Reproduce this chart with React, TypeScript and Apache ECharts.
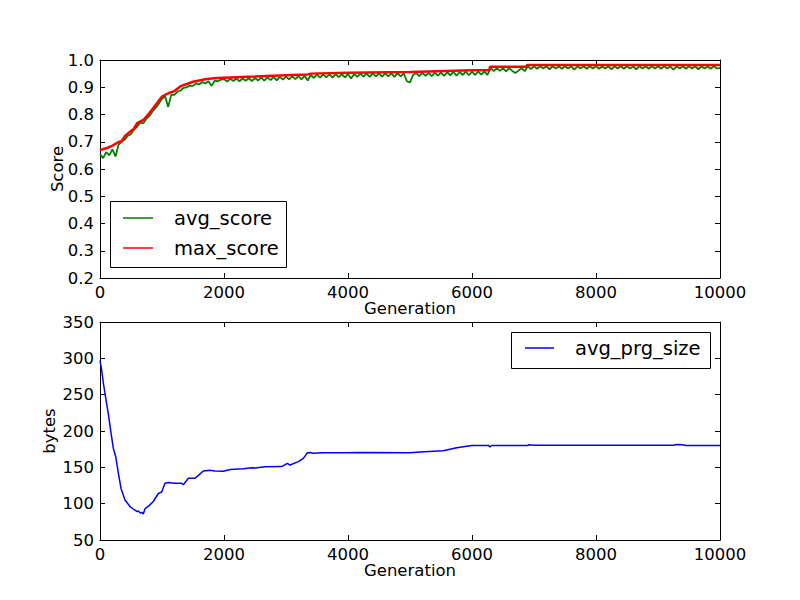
import React, { useEffect, useRef } from "react";
import * as echarts from "echarts";

// ---- data ----
const AVG_STEP = 50; // generation spacing of avg_score samples
const avgScore = [
  0.655, 0.640, 0.662, 0.650, 0.672, 0.646, 0.690, 0.700, 0.708, 0.722, 0.728, 0.745, 0.756, 0.770, 0.768, 0.785, 0.795, 0.812, 0.825, 0.840,
  0.858, 0.866, 0.828, 0.873, 0.872, 0.884, 0.888, 0.898, 0.900, 0.906, 0.905, 0.914, 0.910, 0.919, 0.914, 0.922, 0.905, 0.924, 0.922, 0.928,
  0.930, 0.921, 0.931, 0.923, 0.932, 0.922, 0.932, 0.924, 0.933, 0.923, 0.934, 0.925, 0.935, 0.924, 0.936, 0.926, 0.937, 0.925, 0.938, 0.928,
  0.939, 0.929, 0.940, 0.930, 0.941, 0.929, 0.942, 0.925, 0.945, 0.934, 0.946, 0.935, 0.947, 0.936, 0.947, 0.935, 0.948, 0.937, 0.948, 0.936,
  0.949, 0.932, 0.949, 0.938, 0.950, 0.939, 0.950, 0.938, 0.951, 0.940, 0.951, 0.939, 0.951, 0.940, 0.951, 0.938, 0.952, 0.940, 0.951, 0.922,
  0.918, 0.945, 0.952, 0.941, 0.953, 0.942, 0.953, 0.941, 0.954, 0.943, 0.954, 0.942, 0.955, 0.944, 0.956, 0.943, 0.956, 0.945, 0.957, 0.944,
  0.957, 0.945, 0.957, 0.946, 0.957, 0.945, 0.970, 0.959, 0.970, 0.960, 0.970, 0.958, 0.970, 0.960, 0.952, 0.961, 0.970, 0.959, 0.977, 0.967,
  0.977, 0.968, 0.977, 0.969, 0.977, 0.966, 0.977, 0.969, 0.976, 0.968, 0.977, 0.969, 0.977, 0.965, 0.977, 0.969, 0.977, 0.968, 0.977, 0.969,
  0.977, 0.968, 0.976, 0.969, 0.977, 0.966, 0.977, 0.969, 0.977, 0.968, 0.977, 0.969, 0.976, 0.966, 0.977, 0.969, 0.977, 0.968, 0.977, 0.969,
  0.977, 0.968, 0.977, 0.969, 0.976, 0.965, 0.977, 0.969, 0.977, 0.968, 0.977, 0.969, 0.977, 0.966, 0.977, 0.969, 0.976, 0.968, 0.977, 0.969,
  0.970,
];

const maxGen = [0, 100, 200, 300, 350, 400, 500, 540, 600, 700, 800, 900, 1000, 1100, 1200, 1300, 1400, 1500, 1600, 1700, 1800, 1900, 2000, 2500, 3000, 3350, 3400, 4000, 5000, 6000, 6280, 6290, 6880, 6890, 10000];
const maxScore = [0.670, 0.676, 0.686, 0.699, 0.702, 0.720, 0.740, 0.746, 0.768, 0.780, 0.806, 0.836, 0.866, 0.878, 0.886, 0.904, 0.912, 0.920, 0.925, 0.929, 0.932, 0.934, 0.935, 0.939, 0.944, 0.947, 0.950, 0.953, 0.956, 0.962, 0.962, 0.975, 0.975, 0.982, 0.982];

const prgGen = [0, 25, 54, 97, 134, 172, 215, 253, 296, 339, 403, 484, 530, 564, 600, 620, 650, 672, 700, 726, 800, 860, 941, 995, 1048, 1100, 1200, 1317, 1344, 1425, 1532, 1600, 1667, 1774, 1850, 1989, 2100, 2312, 2450, 2500, 2661, 2930, 3022, 3064, 3199, 3280, 3344, 3387, 3441, 3600, 3925, 4200, 5000, 5161, 5537, 5753, 5914, 6000, 6270, 6290, 6320, 6900, 6908, 7000, 9250, 9300, 9400, 9450, 10000];
const prgSize = [297, 285, 266, 243, 224, 201, 176, 165, 142, 121, 105, 96, 93, 91, 89, 90, 87, 88, 86, 93, 98, 103, 114, 116, 128, 129, 128, 128, 126, 135, 135, 140, 145, 146, 145, 144.5, 147, 148, 149.5, 149, 150.8, 151, 155.5, 153.2, 157.8, 162.4, 170, 170.5, 169.3, 170, 170, 170.3, 170, 171, 172.7, 177, 179, 180, 180, 178, 180, 180, 181, 180.5, 180.5, 181.5, 181, 180, 180];

const scoreTicks = { min: 0.2, max: 1.0, interval: 0.1 };
const bytesTicks = { min: 50, max: 350, interval: 50 };
const genTicks = { min: 0, max: 10000, interval: 2000 };

const FONT = "DejaVu Sans";

export default function App() {
  const ref = useRef<HTMLDivElement>(null);
  useEffect(() => {
    if (!ref.current) return;
    const chart = echarts.init(ref.current, null, { renderer: "svg" });

    const lbl = { color: "#000", fontSize: 16.5, fontFamily: FONT };
    const line = { show: true, onZero: false, lineStyle: { color: "#000", width: 1 } };
    const tick = { show: true, inside: true, length: 5, lineStyle: { color: "#000", width: 1 } };
    const nameStyle = { color: "#000", fontSize: 16.5, fontFamily: FONT };

    const xMain = (grid: number) => ({
      type: "value", gridIndex: grid, position: "bottom", ...genTicks,
      axisLine: line, axisTick: tick,
      axisLabel: { ...lbl, margin: 6, formatter: (v: number) => String(Math.round(v)) },
      splitLine: { show: false },
      name: "Generation", nameLocation: "middle", nameGap: 22, nameMoveOverlap: false, nameTextStyle: nameStyle,
    });
    const xTop = (grid: number) => ({
      type: "value", gridIndex: grid, position: "top", ...genTicks,
      axisLine: line, axisTick: tick, axisLabel: { show: false }, splitLine: { show: false },
    });
    const yMain = (grid: number, t: any, name: string, gap: number, fmt: (v: number) => string) => ({
      type: "value", gridIndex: grid, position: "left", ...t,
      axisLine: line, axisTick: tick, axisLabel: { ...lbl, margin: 6, formatter: fmt }, splitLine: { show: false },
      name, nameLocation: "middle", nameGap: gap, nameMoveOverlap: false, nameTextStyle: nameStyle,
    });
    const yRight = (grid: number, t: any) => ({
      type: "value", gridIndex: grid, position: "right", ...t,
      axisLine: line, axisTick: tick, axisLabel: { show: false }, splitLine: { show: false },
    });

    const legendText = { color: "#000", fontSize: 19.5, fontFamily: FONT, lineHeight: 24, padding: [0, 0, 0, 16] };

    chart.setOption({
      animation: false,
      backgroundColor: "#fff",
      grid: [
        { left: 100, top: 60, width: 620, height: 218, containLabel: false },
        { left: 100, top: 322, width: 620, height: 218, containLabel: false },
      ],
      xAxis: [xMain(0), xTop(0), xMain(1), xTop(1)],
      yAxis: [
        yMain(0, scoreTicks, "Score", 34, (v: number) => v.toFixed(1)),
        yRight(0, scoreTicks),
        yMain(1, bytesTicks, "bytes", 42, (v: number) => String(Math.round(v))),
        yRight(1, bytesTicks),
      ],
      graphic: [
        { type: "rect", z: 3, shape: { x: 110.5, y: 201.5, width: 176, height: 66 }, style: { fill: "#fff", stroke: "#000", lineWidth: 1 } },
        { type: "rect", z: 3, shape: { x: 511.5, y: 332.5, width: 199, height: 36 }, style: { fill: "#fff", stroke: "#000", lineWidth: 1 } },
      ],
      legend: [
        {
          data: ["avg_score", "max_score"], orient: "vertical", left: 123, top: 206, itemGap: 6,
          itemWidth: 30, itemHeight: 1.5, icon: "rect", selectedMode: false, padding: 0, z: 5,
          textStyle: legendText,
        },
        {
          data: ["avg_prg_size"], orient: "vertical", left: 525, top: 336, itemGap: 6,
          itemWidth: 29, itemHeight: 1.5, icon: "rect", selectedMode: false, padding: 0, z: 5,
          textStyle: legendText,
        },
      ],
      series: [
        {
          name: "avg_score", type: "line", xAxisIndex: 0, yAxisIndex: 0, symbol: "none",
          data: avgScore.map((v, i) => [i * AVG_STEP, v]),
          lineStyle: { color: "#008000", width: 1.8 }, itemStyle: { color: "#008000" },
        },
        {
          name: "max_score", type: "line", xAxisIndex: 0, yAxisIndex: 0, symbol: "none",
          data: maxGen.map((g, i) => [g, maxScore[i]]),
          lineStyle: { color: "#ff0000", width: 2.5 }, itemStyle: { color: "#ff0000" },
        },
        {
          name: "avg_prg_size", type: "line", xAxisIndex: 2, yAxisIndex: 2, symbol: "none",
          data: prgGen.map((g, i) => [g, prgSize[i]]),
          lineStyle: { color: "#0000ff", width: 1.5 }, itemStyle: { color: "#0000ff" },
        },
      ],
    });
    return () => chart.dispose();
  }, []);
  return (
    <div
      ref={ref}
      style={{ position: "fixed", left: 0, top: 0, width: 800, height: 600, background: "#fff" }}
    />
  );
}
